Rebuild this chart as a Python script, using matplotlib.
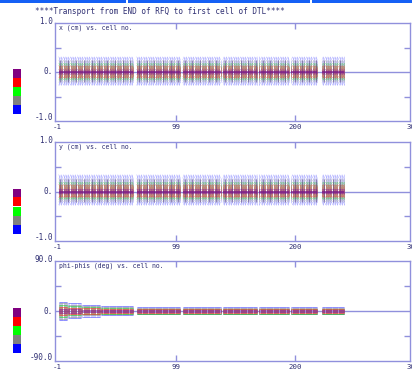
import numpy as np
import matplotlib
matplotlib.use("Agg")
import matplotlib.pyplot as plt
from matplotlib.patches import Rectangle
import matplotlib.transforms as mtransforms

W, H = 412, 372
AXIS = "#9090dc"
TEXT = "#2e2e72"
MONO = ["DejaVu Sans Mono"]

TITLE = "****Transport from END of RFQ to first cell of DTL****"
PANEL_TITLES = ["x (cm) vs. cell no.", "y (cm) vs. cell no.", "phi-phis (deg) vs. cell no."]
Y_LABELS = [["1.0", "0.", "-1.0"], ["1.0", "0.", "-1.0"], ["90.0", "0.", "-90.0"]]
Y_LIMITS = [1.0, 1.0, 90.0]
X_TICKS = [-1, 99, 200, 300]
X_TICK_LABELS = ["-1", "99", "200", "300"]

# envelope colours, outermost to innermost, with their stroke opacity
env_colors = ["#3a3aff", "#8c8c8c", "#22cc22", "#ff2a2a", "#8a1a9a"]
env_alpha = [0.32, 0.35, 0.4, 0.55, 0.65]
# colour key boxes, top to bottom
key_colors = ["#800080", "#ff0000", "#00ff00", "#808080", "#0000ff"]

# DTL tanks (cell ranges)
tank_first = [0, 66, 105, 139, 170, 197, 223]
tank_last = [63, 103, 137, 168, 195, 219, 242]

# transverse envelopes (cm): focusing / defocusing cells, upper and lower edge
x_top_f = [0.31, 0.24, 0.18, 0.13, 0.05]
x_top_d = [0.25, 0.19, 0.15, 0.10, 0.03]
x_bot_f = [-0.27, -0.21, -0.16, -0.12, -0.05]
x_bot_d = [-0.21, -0.17, -0.13, -0.09, -0.03]

y_top_f = [0.34, 0.26, 0.19, 0.14, 0.05]
y_top_d = [0.27, 0.21, 0.16, 0.11, 0.03]
y_bot_f = [-0.27, -0.21, -0.16, -0.12, -0.05]
y_bot_d = [-0.21, -0.17, -0.13, -0.09, -0.03]

# cells where the traces pile up into darker strokes
beat_cells = [1, 8, 15, 21, 28, 34, 41, 48, 54, 60,
              68, 75, 81, 88, 95, 101,
              107, 113, 120, 127, 133,
              141, 147, 154, 160, 167,
              173, 179, 186, 192,
              200, 206, 212, 218,
              225, 232, 238]

# longitudinal phase envelopes (deg) per block of cells
ph_first = [0, 8, 20, 36, 66, 105, 139, 170, 197, 223]
ph_last = [7, 19, 35, 63, 103, 137, 168, 195, 219, 242]
ph_top_blue = [17, 14, 11, 9, 8, 8, 8, 8, 8, 7]
ph_top_gray = [14, 11, 9, 7, 6, 6, 6, 6, 6, 6]
ph_top_green = [11, 9, 7, 5, 4, 4, 4, 4, 4, 4]
ph_top_red = [7, 6, 5, 3, 3, 3, 3, 3, 3, 3]
ph_top_purple = [3, 3, 2, 1, 1, 1, 1, 1, 1, 1]
ph_bot_blue = [-17, -13, -10, -8, -6, -6, -6, -6, -6, -6]
ph_bot_gray = [-14, -11, -8, -6, -5, -5, -5, -5, -5, -5]
ph_bot_green = [-11, -8, -6, -5, -5, -5, -5, -5, -5, -5]
ph_bot_red = [-7, -6, -5, -4, -4, -4, -4, -4, -4, -4]
ph_bot_purple = [-3, -3, -2, -2, -1, -1, -1, -1, -1, -1]

fig = plt.figure(figsize=(W / 100, H / 100), dpi=100)
fig.patch.set_facecolor("white")


def px_rect(x0, y0, x1, y1, color):
    fig.add_artist(Rectangle((x0 / W, 1 - y1 / H), (x1 - x0) / W, (y1 - y0) / H,
                             transform=fig.transFigure, facecolor=color,
                             edgecolor="none", zorder=5))


# window frame strip along the top edge
for x0, x1 in [(0, 126), (128, 310), (312, 412)]:
    px_rect(x0, 0, x1, 3, "#1560f5")

fig.text(35 / W, 1 - 12 / H, TITLE, fontsize=5.5, family=MONO, color=TEXT,
         ha="left", va="center")

panel_px = [(23, 121), (142, 241), (261, 361)]
LEFT, RIGHT = 55, 410
axes = []
for (top, bot) in panel_px:
    ax = fig.add_axes([LEFT / W, 1 - bot / H, (RIGHT - LEFT) / W, (bot - top) / H])
    axes.append(ax)


def style(ax, i):
    lim = Y_LIMITS[i]
    ax.set_xlim(-3.2, 297.5)
    ax.set_ylim(-lim, lim)
    for s in ax.spines.values():
        s.set_color(AXIS)
        s.set_linewidth(1.0)
    ax.set_xticks([99, 200])
    ax.set_yticks([-lim / 2, lim / 2])
    ax.tick_params(direction="in", length=4, width=1, color=AXIS,
                   top=True, right=True, labelbottom=False, labelleft=False)
    ax.axhline(0, color=AXIS, lw=1.0, zorder=1)
    ax.text(0.012, 0.985, PANEL_TITLES[i], transform=ax.transAxes, fontsize=4.7,
            family=MONO, color=TEXT, ha="left", va="top")
    xtrans = mtransforms.offset_copy(ax.get_xaxis_transform(), fig=fig, y=-6, units="dots")
    for v, s in zip(X_TICKS, X_TICK_LABELS):
        ax.text(v, 0, s, transform=xtrans, fontsize=5.3, family=MONO, color=TEXT,
                ha="center", va="center", clip_on=False)
    for v, s, dy in zip([lim, 0, -lim], Y_LABELS[i], [1.5, 0, 3.5]):
        ytrans = mtransforms.offset_copy(ax.get_yaxis_transform(), fig=fig,
                                         x=-2, y=dy, units="dots")
        ax.text(0, v, s, transform=ytrans, fontsize=5.5, family=MONO, color=TEXT,
                ha="right", va="center", clip_on=False)


def draw_transverse(ax, top_f, top_d, bot_f, bot_d):
    for c in range(5):
        for f, l in zip(tank_first, tank_last):
            cells = np.arange(f, l + 1)
            foc = cells % 2 == 0
            top = np.where(foc, top_f[c], top_d[c])
            bot = np.where(foc, bot_f[c], bot_d[c])
            ax.vlines(cells, bot, top, colors=env_colors[c], lw=0.5,
                      alpha=env_alpha[c], zorder=2)
            ax.plot(cells, top, color=env_colors[c], lw=0.35, alpha=env_alpha[c], zorder=2)
            ax.plot(cells, bot, color=env_colors[c], lw=0.35, alpha=env_alpha[c], zorder=2)
    ax.vlines(beat_cells, bot_f[1], top_f[1], colors="#4a2a7a", lw=0.6, alpha=0.5, zorder=3)
    for f, l in zip(tank_first, tank_last):
        ax.hlines(0, f, l, colors="#7a1a8a", lw=1.2, alpha=0.8, zorder=3)


def draw_phase(ax):
    tops = [ph_top_blue, ph_top_gray, ph_top_green, ph_top_red, ph_top_purple]
    bots = [ph_bot_blue, ph_bot_gray, ph_bot_green, ph_bot_red, ph_bot_purple]
    for c in range(5):
        for b, (f, l) in enumerate(zip(ph_first, ph_last)):
            cells = np.arange(f, l + 1)
            ax.vlines(cells, bots[c][b], tops[c][b], colors=env_colors[c], lw=0.5,
                      alpha=env_alpha[c], zorder=2)
            ax.hlines([tops[c][b], bots[c][b]], f, l, colors=env_colors[c], lw=0.6,
                      alpha=0.6, zorder=2)


for i, ax in enumerate(axes):
    style(ax, i)
draw_transverse(axes[0], x_top_f, x_top_d, x_bot_f, x_bot_d)
draw_transverse(axes[1], y_top_f, y_top_d, y_bot_f, y_bot_d)
draw_phase(axes[2])

# colour key beside each panel, starting just above the zero line
for (top, bot) in panel_px:
    zero = (top + bot) / 2
    y = zero - 3
    for col in key_colors:
        px_rect(13, y, 21, y + 9, col)
        y += 9

fig.savefig("out.png", dpi=100, facecolor="white")
